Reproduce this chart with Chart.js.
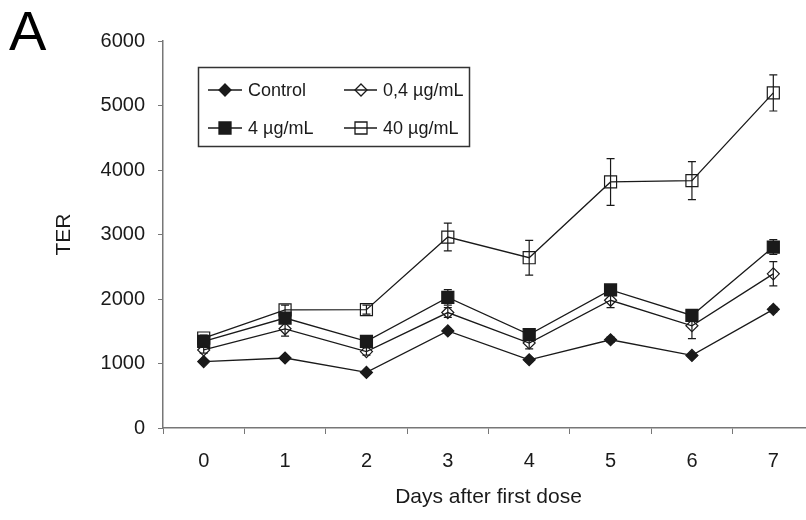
<!DOCTYPE html>
<html lang="en">
<head>
<meta charset="UTF-8">
<title>TER</title>
<script src="https://cdn.jsdelivr.net/npm/chart.js"></script>
<style>
  html, body { margin: 0; padding: 0; background: #fff; overflow: hidden; }
  #wrap { width: 830px; height: 520px; }
</style>
</head>
<body>
<div id="wrap">
  <canvas id="chart" width="830" height="520"></canvas>
</div>
<script>
// datos
const days = ['0', '1', '2', '3', '4', '5', '6', '7'];
const seriesNames = ['Control', '0,4 µg/mL', '4 µg/mL', '40 µg/mL'];

const control = [1030, 1085, 862, 1505, 1058, 1368, 1125, 1840];
const low = [1210, 1538, 1185, 1790, 1318, 1980, 1585, 2390];
const mid = [1343, 1705, 1343, 2025, 1448, 2140, 1745, 2805];
const high = [1395, 1830, 1835, 2960, 2640, 3815, 3835, 5195];

const controlErr = [25, 25, 25, 35, 30, 40, 30, 40];
const lowErr = [50, 115, 55, 75, 90, 115, 200, 188];
const midErr = [40, 50, 40, 120, 60, 60, 45, 115];
const highErr = [45, 75, 70, 215, 270, 362, 295, 280];

const yTicks = [0, 1000, 2000, 3000, 4000, 5000, 6000];

const FONT = '"Liberation Sans", Arial, sans-serif';
const INK = '#1a1a1a';

// barras de error con las escalas del grafico
const errorBars = {
    id: 'errorBars',
    beforeDatasetsDraw(chart) {
        const ctx = chart.ctx;
        const y = chart.scales.y;
        ctx.save();
        ctx.strokeStyle = INK;
        ctx.lineWidth = 1.2;
        chart.data.datasets.forEach((ds, i) => {
            const meta = chart.getDatasetMeta(i);
            meta.data.forEach((pt, j) => {
                const e = ds.errors[j];
                const top = y.getPixelForValue(ds.data[j] + e);
                const bot = y.getPixelForValue(ds.data[j] - e);
                ctx.beginPath();
                ctx.moveTo(pt.x, top);
                ctx.lineTo(pt.x, bot);
                ctx.moveTo(pt.x - 4, top);
                ctx.lineTo(pt.x + 4, top);
                ctx.moveTo(pt.x - 4, bot);
                ctx.lineTo(pt.x + 4, bot);
                ctx.stroke();
            });
        });
        ctx.restore();
    }
};

function marker(ctx, style, fill, x, y) {
    ctx.beginPath();
    if (style === 'rect') {
        ctx.rect(x - 6, y - 6, 12, 12);
    } else {
        ctx.moveTo(x, y - 6);
        ctx.lineTo(x + 6, y);
        ctx.lineTo(x, y + 6);
        ctx.lineTo(x - 6, y);
        ctx.closePath();
    }
    if (fill !== 'transparent') {
        ctx.fillStyle = fill;
        ctx.fill();
    }
    ctx.stroke();
}

// leyenda en caja y letra del panel
const boxLegend = {
    id: 'boxLegend',
    afterDraw(chart) {
        const ctx = chart.ctx;
        ctx.save();
        ctx.fillStyle = '#000';
        ctx.font = '56px ' + FONT;
        ctx.textBaseline = 'alphabetic';
        ctx.fillText('A', 9, 50);

        ctx.strokeStyle = '#333';
        ctx.lineWidth = 1.5;
        ctx.strokeRect(198.5, 67.5, 271, 79);

        const cols = [[208, 242, 225, 248], [344, 377, 361, 383]];
        const rows = [90, 128];
        ctx.font = '18px ' + FONT;
        ctx.textBaseline = 'middle';
        chart.data.datasets.forEach((ds, i) => {
            const c = cols[i % 2];
            const r = rows[Math.floor(i / 2)];
            ctx.strokeStyle = INK;
            ctx.lineWidth = 1.3;
            ctx.beginPath();
            ctx.moveTo(c[0], r);
            ctx.lineTo(c[1], r);
            ctx.stroke();
            marker(ctx, ds.pointStyle, ds.pointBackgroundColor, c[2], r);
            ctx.fillStyle = INK;
            ctx.fillText(ds.label, c[3], r + 1);
        });
        ctx.restore();
    }
};

function serie(label, data, errors, style, fill, size) {
    return {
        label: label,
        data: data,
        errors: errors,
        borderColor: INK,
        borderWidth: 1.3,
        pointStyle: style,
        pointRadius: size,
        pointBackgroundColor: fill,
        pointBorderColor: INK,
        pointBorderWidth: 1.2,
        tension: 0
    };
}

const ctx = document.getElementById('chart').getContext('2d');
new Chart(ctx, {
    type: 'line',
    data: {
        labels: days,
        datasets: [
            serie(seriesNames[0], control, controlErr, 'rectRot', INK, 6),
            serie(seriesNames[1], low, lowErr, 'rectRot', 'transparent', 6),
            serie(seriesNames[2], mid, midErr, 'rect', INK, 8.5),
            serie(seriesNames[3], high, highErr, 'rect', 'transparent', 8.5)
        ]
    },
    options: {
        responsive: false,
        animation: false,
        layout: { padding: { left: 0, top: 41, right: 16, bottom: 0 } },
        plugins: { legend: { display: false }, tooltip: { enabled: false } },
        scales: {
            x: {
                offset: true,
                afterFit(scale) { scale.height = 92; },
                border: { color: '#777', width: 1.5 },
                grid: { drawOnChartArea: false, color: '#777', tickLength: 6, offset: true },
                ticks: { color: INK, font: { family: FONT, size: 20 }, padding: 15 },
                title: { display: true, text: 'Days after first dose', color: INK,
                         font: { family: FONT, size: 21 }, padding: { top: 0, bottom: 10 } }
            },
            y: {
                min: 0,
                max: 6000,
                afterFit(scale) { scale.width = 163; },
                afterBuildTicks(scale) { scale.ticks = yTicks.map(v => ({ value: v })); },
                border: { color: '#777', width: 1.5 },
                grid: { drawOnChartArea: false, color: '#777', tickLength: 5 },
                ticks: { color: INK, font: { family: FONT, size: 20 }, padding: 13,
                         callback: v => String(v) },
                title: { display: true, text: 'TER', color: INK,
                         font: { family: FONT, size: 21 }, padding: { top: 52, bottom: 0 } }
            }
        }
    },
    plugins: [errorBars, boxLegend]
});
</script>
</body>
</html>
